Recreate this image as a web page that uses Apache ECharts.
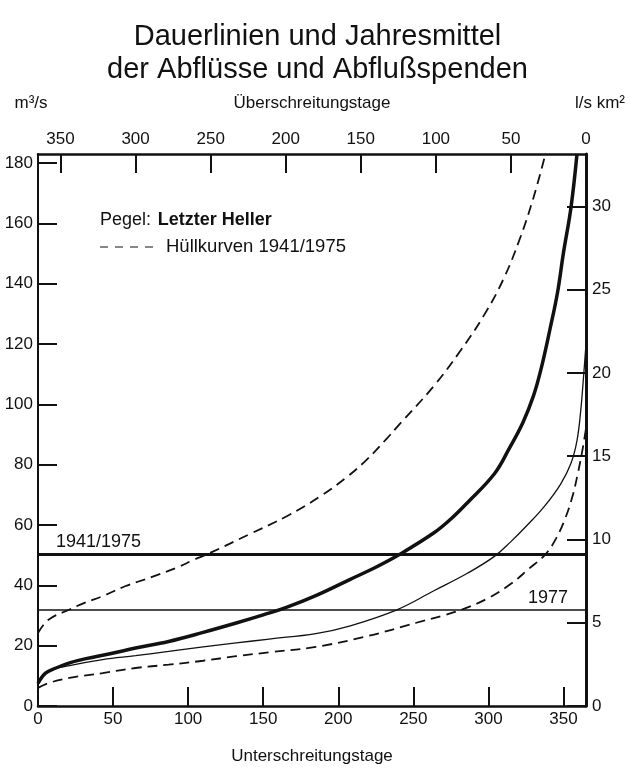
<!DOCTYPE html>
<html>
<head>
<meta charset="utf-8">
<script src="https://cdn.jsdelivr.net/npm/echarts@6/dist/echarts.min.js"></script>
<style>
html,body{margin:0;padding:0;background:#fff;}
#c{width:635px;height:776px;}
</style>
</head>
<body>
<div id="c"></div>
<script>
// ---- data (x = Unterschreitungstage, y = m³/s) ----
const xTicks = [0, 50, 100, 150, 200, 250, 300, 350];
const yTicksLeft = [0, 20, 40, 60, 80, 100, 120, 140, 160, 180];
const yTicksRight = [0, 5, 10, 15, 20, 25, 30];

// Dauerlinie 1941/1975 (thick)
const meanDays = [0, 5, 12, 21, 32, 48, 65, 87, 110, 132, 150, 165, 185, 208, 225, 241, 264, 275, 286, 304, 314, 323, 330, 335, 341, 346, 350, 355, 359];
const meanVals = [7.5, 10.9, 12.6, 14.3, 15.7, 17.3, 19.2, 21.4, 24.4, 27.5, 30.2, 32.6, 36.6, 42.0, 46.0, 50.3, 57.5, 62.0, 67.4, 77.0, 85.5, 94, 102.8, 111.6, 124.9, 137, 150.3, 165.3, 183];

// Dauerlinie 1977 (thin)
const y1977Days = [0, 7, 21, 43, 65, 87, 110, 132, 154, 185, 208, 239, 264, 286, 304, 315, 325, 337, 348, 355, 359, 361.5, 363.5, 365];
const y1977Vals = [7.5, 11.5, 13.4, 15.4, 16.7, 18.1, 19.6, 20.9, 22.2, 24.0, 26.6, 31.9, 38.3, 44.0, 49.6, 54.5, 59.5, 66.0, 73.5, 80.5, 88, 98, 110, 120];

// Hüllkurven 1941/1975 (dashed)
const upperDays = [0, 7, 21, 31, 43, 58, 76, 94, 103, 114, 141, 166, 188, 206, 219, 232, 241, 263.5, 281, 297, 310, 321, 330, 338];
const upperVals = [24.2, 28.6, 32, 34.2, 36.4, 39.7, 42.8, 46.2, 48.3, 50.6, 57.0, 63.0, 69.5, 76.0, 81.7, 88.5, 93.5, 106.0, 117.5, 129.5, 141.5, 155.0, 168.5, 183];
const lowerDays = [0, 7, 21, 43, 65, 87, 110, 132, 154, 185, 219, 252, 270, 284, 300, 315, 327, 338, 345, 351, 356, 359.5, 362.5, 365];
const lowerVals = [6.0, 7.6, 9.3, 10.9, 12.6, 13.7, 15.0, 16.5, 17.8, 19.6, 23.1, 27.6, 30.0, 32.3, 35.8, 40.5, 45.5, 50.3, 55.5, 62.0, 69.5, 77.0, 84.5, 92];

// Jahresmittel
const meanQ_1941_1975 = 50.3;
const meanQ_1977 = 31.9;

const yMax = 183;
const spendeFactor = 5.52; // m³/s per l/s km²

const pairs = (xs, ys) => xs.map((x, i) => [x, ys[i]]);

const FONT = 'Liberation Sans, Arial, Helvetica, sans-serif';
const BLACK = '#111';

const chart = echarts.init(document.getElementById('c'), null, {renderer: 'canvas'});

const tickCommon = {show: true, inside: true, length: 19, lineStyle: {color: BLACK, width: 2}};
const lblCommon = {color: BLACK, fontFamily: FONT, fontSize: 17};
const nameStyle = {color: BLACK, fontFamily: FONT, fontSize: 17};
const SMOOTH = 0.4;

chart.setOption({
  backgroundColor: '#fff',
  animation: false,
  title: {
    text: 'Dauerlinien und Jahresmittel\nder Abflüsse und Abflußspenden',
    left: 'center', top: 15,
    textStyle: {fontFamily: FONT, fontSize: 29, fontWeight: 'normal', color: BLACK, lineHeight: 33}
  },
  grid: {left: 38, top: 154, width: 548, height: 552, containLabel: false},
  xAxis: [
    {
      type: 'value', position: 'bottom', min: 0, max: 365, interval: 50,
      name: 'Unterschreitungstage', nameLocation: 'middle', nameGap: 42,
      nameTextStyle: nameStyle,
      axisLine: {show: true, onZero: false, lineStyle: {color: BLACK, width: 2.5}},
      axisTick: tickCommon,
      axisLabel: Object.assign({margin: 5, showMaxLabel: false,
        formatter: v => xTicks.includes(v) ? String(v) : ''}, lblCommon),
      splitLine: {show: false}
    },
    {
      type: 'value', position: 'top', min: 0, max: 365, interval: 50, inverse: true,
      name: 'Überschreitungstage', nameLocation: 'middle', nameGap: 42,
      nameTextStyle: nameStyle,
      axisLine: {show: true, onZero: false, lineStyle: {color: BLACK, width: 2.5}},
      axisTick: tickCommon,
      axisLabel: Object.assign({margin: 6, showMaxLabel: false,
        formatter: v => xTicks.includes(v) ? String(v) : ''}, lblCommon),
      splitLine: {show: false}
    }
  ],
  yAxis: [
    {
      type: 'value', position: 'left', min: 0, max: yMax, interval: 20,
      name: 'm³/s', nameLocation: 'end', nameGap: 42,
      nameTextStyle: Object.assign({align: 'center', padding: [0, 14, 0, 0]}, nameStyle),
      axisLine: {show: true, onZero: false, lineStyle: {color: BLACK, width: 2}},
      axisTick: tickCommon,
      axisLabel: Object.assign({margin: 5, showMaxLabel: false,
        formatter: v => yTicksLeft.includes(v) ? String(v) : ''}, lblCommon),
      splitLine: {show: false}
    },
    {
      type: 'value', position: 'right', min: 0, max: yMax / spendeFactor, interval: 5,
      name: 'l/s km²', nameLocation: 'end', nameGap: 42,
      nameTextStyle: Object.assign({align: 'center', padding: [0, 0, 0, 28]}, nameStyle),
      axisLine: {show: true, onZero: false, lineStyle: {color: BLACK, width: 3}},
      axisTick: tickCommon,
      axisLabel: Object.assign({margin: 6, showMaxLabel: false,
        formatter: v => yTicksRight.includes(v) ? String(v) : ''}, lblCommon),
      splitLine: {show: false}
    }
  ],
  series: [
    {
      name: 'Hüllkurve oben', type: 'line', xAxisIndex: 0, yAxisIndex: 0,
      data: pairs(upperDays, upperVals), showSymbol: false, smooth: SMOOTH,
      lineStyle: {color: BLACK, width: 1.8, type: [10, 6]}, z: 3
    },
    {
      name: 'Hüllkurve unten', type: 'line', xAxisIndex: 0, yAxisIndex: 0,
      data: pairs(lowerDays, lowerVals), showSymbol: false, smooth: SMOOTH,
      lineStyle: {color: BLACK, width: 1.8, type: [10, 6]}, z: 3
    },
    {
      name: '1977', type: 'line', xAxisIndex: 0, yAxisIndex: 0,
      data: pairs(y1977Days, y1977Vals), showSymbol: false, smooth: SMOOTH,
      lineStyle: {color: BLACK, width: 1.3}, z: 3,
      markLine: {
        silent: true, symbol: ['none', 'none'], animation: false,
        lineStyle: {color: BLACK, width: 1.6, type: 'solid'},
        label: {show: true, position: 'insideEndTop', formatter: '1977', distance: [18, 3],
          color: BLACK, fontFamily: FONT, fontSize: 18},
        data: [{yAxis: meanQ_1977}]
      }
    },
    {
      name: '1941/1975', type: 'line', xAxisIndex: 0, yAxisIndex: 0,
      data: pairs(meanDays, meanVals), showSymbol: false, smooth: SMOOTH,
      lineStyle: {color: BLACK, width: 3.5}, z: 4,
      markLine: {
        silent: true, symbol: ['none', 'none'], animation: false,
        lineStyle: {color: BLACK, width: 3, type: 'solid'},
        label: {show: true, position: 'insideStartTop', formatter: '1941/1975', distance: [18, 3],
          color: BLACK, fontFamily: FONT, fontSize: 18},
        data: [{yAxis: meanQ_1941_1975}]
      }
    }
  ],
  graphic: [
    {
      type: 'text', left: 100, top: 211,
      style: {
        text: '{n|Pegel:}  {b|Letzter Heller}',
        rich: {
          n: {fontFamily: FONT, fontSize: 18, fill: BLACK},
          b: {fontFamily: FONT, fontSize: 18, fontWeight: 'bold', fill: BLACK}
        }
      }
    },
    {
      type: 'line', shape: {x1: 100, y1: 247, x2: 154, y2: 247},
      style: {stroke: BLACK, lineWidth: 1.2, lineDash: [8, 7]}
    },
    {
      type: 'text', left: 166, top: 237,
      style: {text: 'Hüllkurven 1941/1975', fontFamily: FONT, fontSize: 18.5, fill: BLACK}
    }
  ]
});
</script>
</body>
</html>
